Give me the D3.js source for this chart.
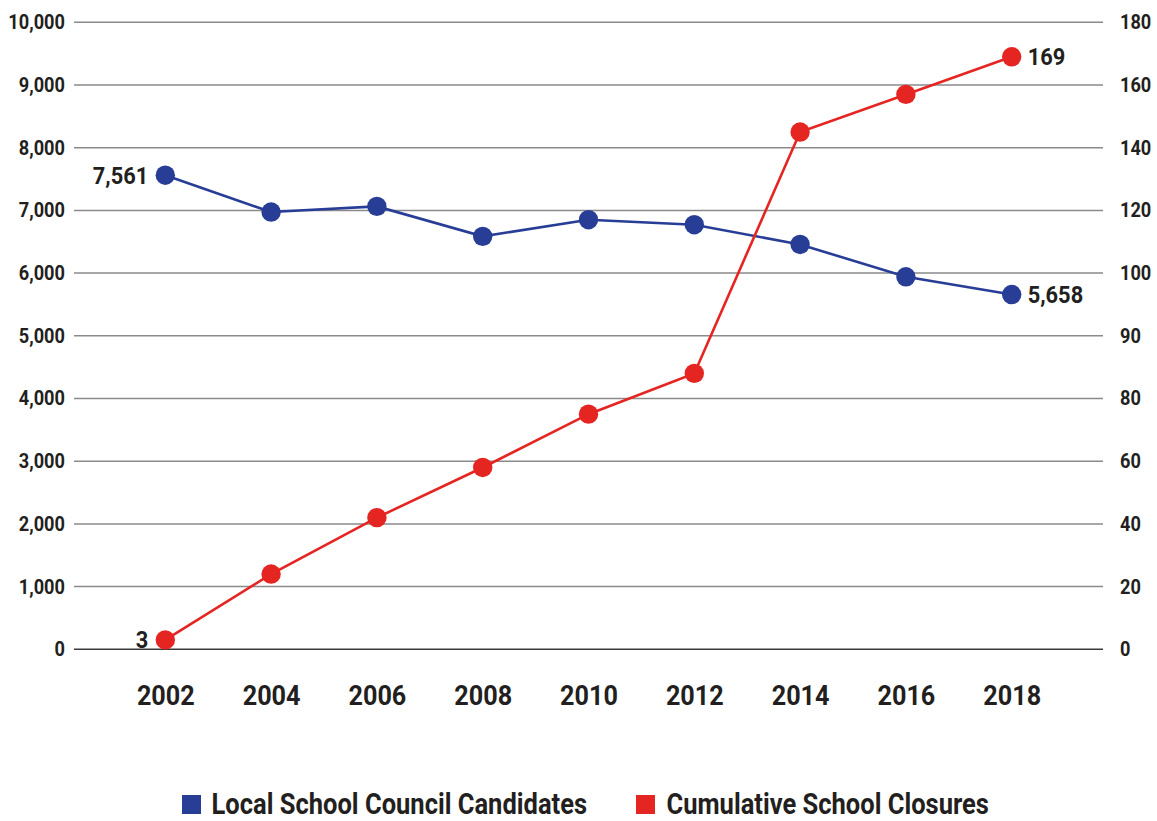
<!DOCTYPE html>
<html>
<head>
<meta charset="utf-8">
<script src="https://cdn.jsdelivr.net/npm/d3@7"></script>
<style>
  body { margin: 0; background: #fff; }
  text { font-family: Roboto, "Open Sans", sans-serif; font-weight: bold; fill: #231f20; }
</style>
</head>
<body>
<div id="chart"></div>
<script>
// data
var years = ["2002", "2004", "2006", "2008", "2010", "2012", "2014", "2016", "2018"];
var candidates = [7561, 6974, 7064, 6586, 6852, 6772, 6457, 5941, 5658];
var closures = [3, 24, 42, 58, 75, 84, 145, 157, 169];
var leftTicks = [0, 1000, 2000, 3000, 4000, 5000, 6000, 7000, 8000, 9000, 10000];
// the right axis labels as printed (80 -> 90 spans one gridline)
var rightTicks = [0, 20, 40, 60, 80, 90, 100, 120, 140, 160, 180];
var seriesNames = ["Local School Council Candidates", "Cumulative School Closures"];

var w = 1157, h = 821;
var blue = "#283d96", red = "#e52521";
var top0 = 22.3, bottom0 = 649.3;
var gridLeft = 74, gridRight = 1103;

var svg = d3.select("#chart").append("svg")
    .attr("width", w)
    .attr("height", h);

// narrow the glyphs a bit, the original uses a condensed face
function squeeze(sel, k) {
  sel.each(function() {
    var t = d3.select(this);
    var x = +t.attr("x") || 0, y = +t.attr("y") || 0;
    t.attr("x", 0).attr("y", 0)
     .attr("transform", "translate(" + x + "," + y + ") scale(" + k + ",1)");
  });
}

var xScale = d3.scalePoint()
    .domain(years)
    .range([gridLeft, gridRight])
    .padding(0.863);

var yLeft = d3.scaleLinear()
    .domain([0, 10000])
    .range([bottom0, top0]);

// right scale follows the printed labels, one gridline per tick
var yRight = d3.scaleLinear()
    .domain(rightTicks)
    .range(leftTicks.map(function(d) { return yLeft(d); }));

// gridlines
svg.append("g")
   .selectAll("line")
   .data(leftTicks)
   .enter()
   .append("line")
   .attr("x1", gridLeft)
   .attr("x2", gridRight)
   .attr("y1", function(d) { return yLeft(d); })
   .attr("y2", function(d) { return yLeft(d); })
   .attr("stroke", function(d) { return d === 0 ? "#3a3a3a" : "#8a8a8a"; })
   .attr("stroke-width", 1.5);

var yAxisLeft = d3.axisLeft(yLeft)
    .tickValues(leftTicks)
    .tickSize(0)
    .tickPadding(0)
    .tickFormat(d3.format(","));
svg.append("g")
   .attr("class", "y-axis")
   .attr("transform", "translate(65,0)")
   .call(yAxisLeft)
   .call(function(g) { g.select(".domain").remove(); })
   .selectAll("text")
   .attr("font-size", 20)
   .attr("fill", "#231f20")
   .call(squeeze, 0.91);

var yAxisRight = d3.axisRight(yRight)
    .tickValues(rightTicks)
    .tickSize(0)
    .tickPadding(0);
svg.append("g")
   .attr("class", "y-axis-right")
   .attr("transform", "translate(1120,0)")
   .call(yAxisRight)
   .call(function(g) { g.select(".domain").remove(); })
   .selectAll("text")
   .attr("font-size", 20)
   .attr("fill", "#231f20")
   .call(squeeze, 0.91);

var xAxis = d3.axisBottom(xScale)
    .tickSize(0)
    .tickPadding(0);
svg.append("g")
   .attr("class", "x-axis")
   .attr("transform", "translate(0,705)")
   .call(xAxis)
   .call(function(g) { g.select(".domain").remove(); })
   .selectAll("text")
   .attr("dy", 0)
   .attr("font-size", 28)
   .attr("fill", "#231f20")
   .call(squeeze, 0.9);

// lines
var lineLeft = d3.line()
    .x(function(d, i) { return xScale(years[i]); })
    .y(function(d) { return yLeft(d); });
var lineRight = d3.line()
    .x(function(d, i) { return xScale(years[i]); })
    .y(function(d) { return yRight(d); });

svg.append("path")
   .datum(candidates)
   .attr("d", lineLeft)
   .attr("fill", "none")
   .attr("stroke", blue)
   .attr("stroke-width", 2.6);

svg.append("path")
   .datum(closures)
   .attr("d", lineRight)
   .attr("fill", "none")
   .attr("stroke", red)
   .attr("stroke-width", 2.6);

svg.append("g")
   .selectAll("circle")
   .data(candidates)
   .enter()
   .append("circle")
   .attr("cx", function(d, i) { return xScale(years[i]); })
   .attr("cy", function(d) { return yLeft(d); })
   .attr("r", 9.7)
   .attr("fill", blue);

svg.append("g")
   .selectAll("circle")
   .data(closures)
   .enter()
   .append("circle")
   .attr("cx", function(d, i) { return xScale(years[i]); })
   .attr("cy", function(d) { return yRight(d); })
   .attr("r", 9.7)
   .attr("fill", red);

// end labels
var last = years.length - 1;
var fmt = d3.format(",");
var endLabels = [
  { x: xScale(years[0]) - 17, y: yLeft(candidates[0]) + 8.5, t: fmt(candidates[0]), a: "end" },
  { x: xScale(years[last]) + 16, y: yLeft(candidates[last]) + 8.5, t: fmt(candidates[last]), a: "start" },
  { x: xScale(years[0]) - 17, y: yRight(closures[0]) + 8.5, t: fmt(closures[0]), a: "end" },
  { x: xScale(years[last]) + 16, y: yRight(closures[last]) + 8.5, t: fmt(closures[last]), a: "start" }
];
svg.append("g")
   .selectAll("text")
   .data(endLabels)
   .enter()
   .append("text")
   .attr("x", function(d) { return d.x; })
   .attr("y", function(d) { return d.y; })
   .attr("text-anchor", function(d) { return d.a; })
   .attr("font-size", 24)
   .text(function(d) { return d.t; })
   .call(squeeze, 0.91);

// legend
var legend = svg.append("g")
   .selectAll("g")
   .data(seriesNames)
   .enter()
   .append("g")
   .attr("transform", function(d, i) { return "translate(" + (i === 0 ? 182 : 636) + ",795)"; });
legend.append("rect")
   .attr("width", 19)
   .attr("height", 19)
   .attr("fill", function(d, i) { return i === 0 ? blue : red; });
legend.append("text")
   .attr("x", function(d, i) { return i === 0 ? 29.5 : 30.5; })
   .attr("y", 18.5)
   .attr("font-size", 29.5)
   .text(function(d) { return d; })
   .call(squeeze, 0.865);
</script>
</body>
</html>
